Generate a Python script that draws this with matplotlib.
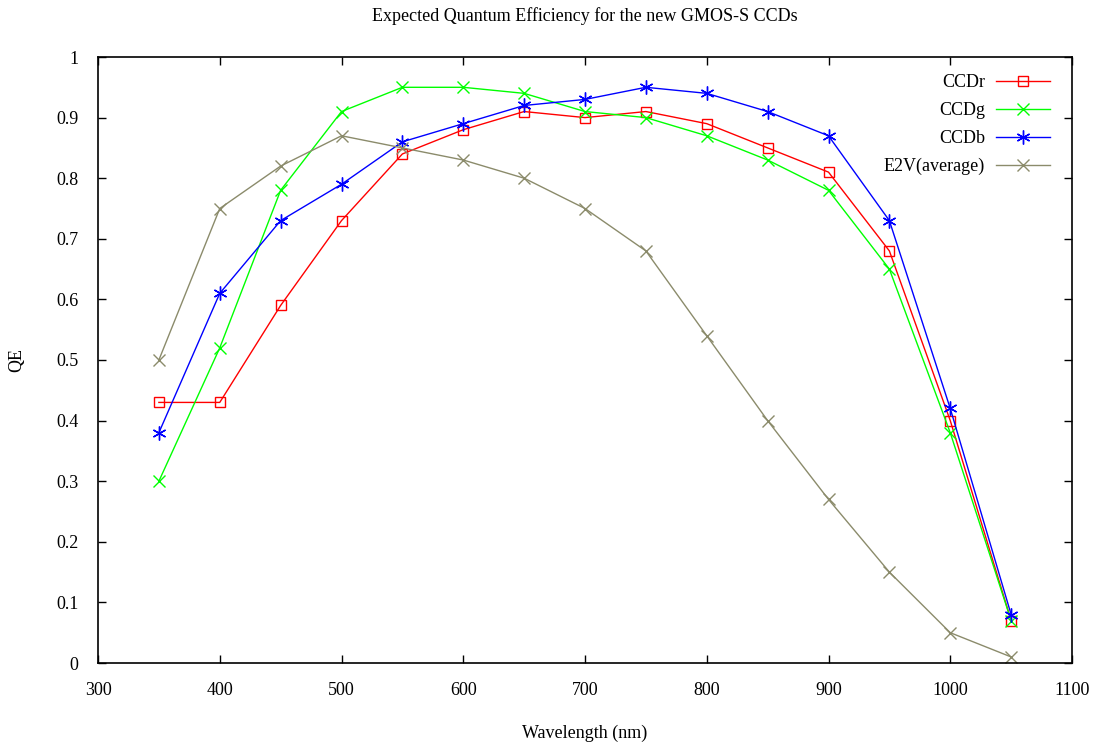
import matplotlib
matplotlib.use("Agg")
import matplotlib.pyplot as plt

plt.rcParams['font.family'] = ['Liberation Serif', 'DejaVu Serif']

wavelength = [350, 400, 450, 500, 550, 600, 650, 700, 750, 800, 850, 900, 950, 1000, 1050]
ccd_r = [0.43, 0.43, 0.59, 0.73, 0.84, 0.88, 0.91, 0.90, 0.91, 0.89, 0.85, 0.81, 0.68, 0.40, 0.07]
ccd_g = [0.30, 0.52, 0.78, 0.91, 0.95, 0.95, 0.94, 0.91, 0.90, 0.87, 0.83, 0.78, 0.65, 0.38, 0.07]
ccd_b = [0.38, 0.61, 0.73, 0.79, 0.86, 0.89, 0.92, 0.93, 0.95, 0.94, 0.91, 0.87, 0.73, 0.42, 0.08]
e2v = [0.50, 0.75, 0.82, 0.87, 0.85, 0.83, 0.80, 0.75, 0.68, 0.54, 0.40, 0.27, 0.15, 0.05, 0.01]

xticks = [300, 400, 500, 600, 700, 800, 900, 1000, 1100]
yticks = [0, 0.1, 0.2, 0.3, 0.4, 0.5, 0.6, 0.7, 0.8, 0.9, 1]
ytick_labels = ['0', '0.1', '0.2', '0.3', '0.4', '0.5', '0.6', '0.7', '0.8', '0.9', '1']

fig = plt.figure(figsize=(10.99, 7.43), dpi=100)
ax = fig.add_axes([98/1099, 80/743, (1072-98)/1099, (663-57)/743])

ax.plot(wavelength, ccd_r, color='#ff0000', lw=1.0, marker='s', ms=7, mfc='none', mec='#ff0000', mew=1.0, label='CCDr')
ax.plot(wavelength, ccd_g, color='#00ff00', lw=1.0, marker='x', ms=8, mew=1.0, label='CCDg')
ax.plot(wavelength, ccd_b, color='#0000ff', lw=1.0, marker=(6, 2, 0), ms=10, mew=1.0, label='CCDb')
ax.plot(wavelength, e2v, color='#8b8b6b', lw=1.0, marker='x', ms=8, mew=1.0, label='E2V(average)')

ax.set_xlim(300, 1100)
ax.set_ylim(0, 1)
ax.set_xticks(xticks)
ax.set_yticks(yticks)
ax.set_yticklabels(ytick_labels)
ax.tick_params(direction='in', top=True, right=True, length=6, width=1, labelsize=13, pad=14)
for s in ax.spines.values():
    s.set_linewidth(1.2)

ax.set_title('Expected Quantum Efficiency for the new GMOS-S CCDs', fontsize=13, pad=26)
ax.set_xlabel('Wavelength (nm)', fontsize=13, labelpad=18)
ax.set_ylabel('QE', fontsize=13, labelpad=22)

leg = ax.legend(loc='upper right', bbox_to_anchor=(0.9846, 0.9835), frameon=False,
                markerfirst=False, fontsize=13, handlelength=3.0, labelspacing=0.6,
                borderaxespad=0.0, handletextpad=0.6)
for t in leg.get_texts():
    t.set_ha('right')
leg._legend_box.align = 'right'

fig.savefig('out.png', dpi=100)
